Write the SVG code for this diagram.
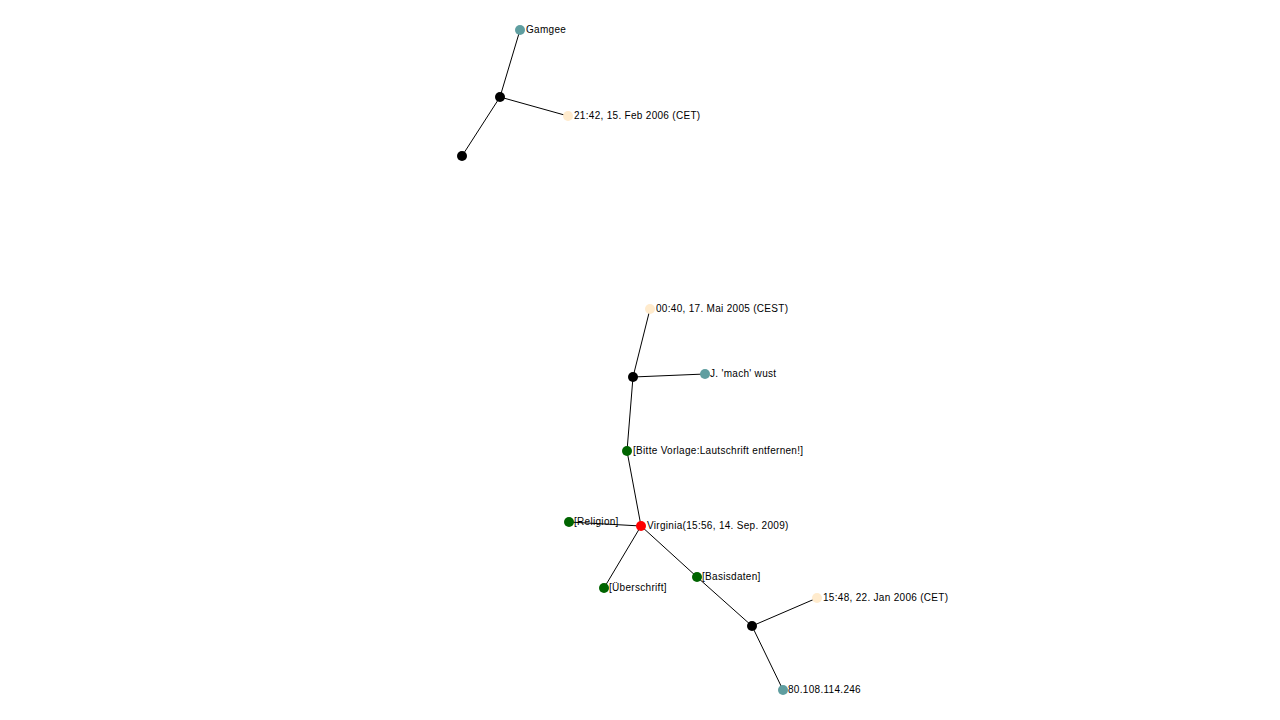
<svg xmlns="http://www.w3.org/2000/svg" width="1280" height="720" viewBox="0 0 1280 720">
<style>
.e{stroke:#000;stroke-width:1;fill:none}
.n{stroke:none}
.blk{fill:#000}
.teal{fill:#5f9ea0}
.cream{fill:#ffebcd}
.grn{fill:#006400}
.red{fill:#ff0000}
text{font-family:"Liberation Sans",Arial,sans-serif;font-size:10px;letter-spacing:0.3px;fill:#000}
</style>
<rect width="1280" height="720" fill="#fff"/>
<g id="connectors">
<line class="e" x1="520" y1="30" x2="500" y2="97"/>
<line class="e" x1="500" y1="97" x2="568" y2="116"/>
<line class="e" x1="500" y1="97" x2="462" y2="156"/>
<line class="e" x1="650" y1="309" x2="633" y2="377"/>
<line class="e" x1="633" y1="377" x2="705" y2="374"/>
<line class="e" x1="633" y1="377" x2="627" y2="451"/>
<line class="e" x1="627" y1="451" x2="641" y2="526"/>
<line class="e" x1="569" y1="522" x2="641" y2="526"/>
<line class="e" x1="641" y1="526" x2="604" y2="588"/>
<line class="e" x1="641" y1="526" x2="697" y2="577"/>
<line class="e" x1="697" y1="577" x2="752" y2="626"/>
<line class="e" x1="752" y1="626" x2="817" y2="598"/>
<line class="e" x1="752" y1="626" x2="783" y2="690"/>
</g>
<g id="gamgee"><circle class="n teal" cx="520" cy="30" r="5"/><text x="526" y="33">Gamgee</text></g>
<g id="hub1"><circle class="n blk" cx="500" cy="97" r="5"/></g>
<g id="date1"><circle class="n cream" cx="568" cy="116" r="5"/><text x="574" y="119">21:42, 15. Feb 2006 (CET)</text></g>
<g id="leaf1"><circle class="n blk" cx="462" cy="156" r="5"/></g>
<g id="date2"><circle class="n cream" cx="650" cy="309" r="5"/><text x="656" y="312">00:40, 17. Mai 2005 (CEST)</text></g>
<g id="hub2"><circle class="n blk" cx="633" cy="377" r="5"/></g>
<g id="wust"><circle class="n teal" cx="705" cy="374" r="5"/><text x="710" y="377">J. 'mach' wust</text></g>
<g id="bitte"><circle class="n grn" cx="627" cy="451" r="5"/><text x="633" y="454">[Bitte Vorlage:Lautschrift entfernen!]</text></g>
<g id="virginia"><circle class="n red" cx="641" cy="526" r="5"/><text x="647" y="529">Virginia(15:56, 14. Sep. 2009)</text></g>
<g id="religion"><circle class="n grn" cx="569" cy="522" r="5"/><text x="574" y="525">[Religion]</text></g>
<g id="ueberschrift"><circle class="n grn" cx="604" cy="588" r="5"/><text x="609" y="591">[Überschrift]</text></g>
<g id="basisdaten"><circle class="n grn" cx="697" cy="577" r="5"/><text x="702" y="580">[Basisdaten]</text></g>
<g id="hub3"><circle class="n blk" cx="752" cy="626" r="5"/></g>
<g id="date3"><circle class="n cream" cx="817" cy="598" r="5"/><text x="823" y="601">15:48, 22. Jan 2006 (CET)</text></g>
<g id="ip"><circle class="n teal" cx="783" cy="690" r="5"/><text x="788" y="693">80.108.114.246</text></g>
</svg>
